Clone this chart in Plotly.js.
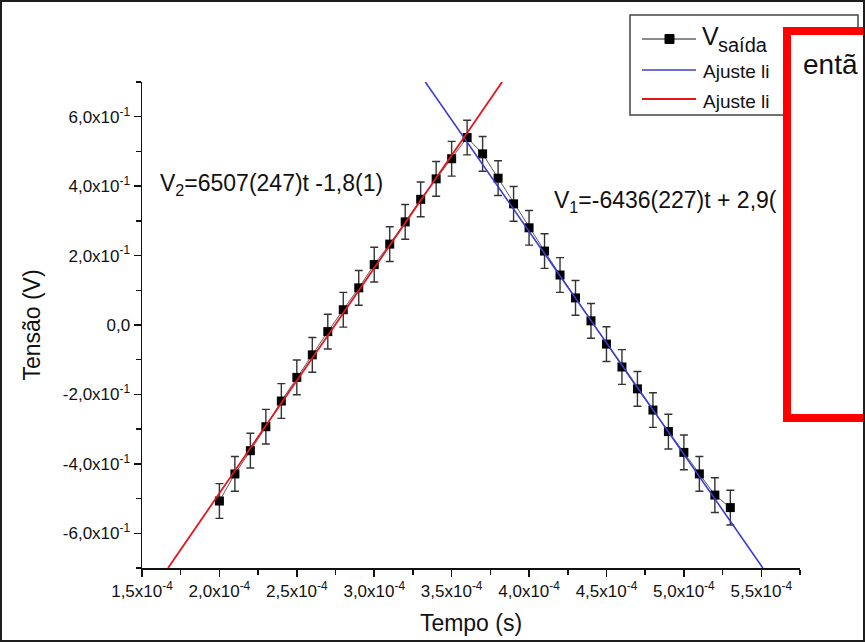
<!DOCTYPE html>
<html>
<head>
<meta charset="utf-8">
<script src="https://cdn.plot.ly/plotly-3.0.1.min.js"></script>
<style>
  html, body { margin: 0; padding: 0; background: #fff; }
  #wrap { position: relative; width: 865px; height: 642px; }
  #chart { position: absolute; left: 0; top: 0; width: 865px; height: 642px; }
  #frame { position: absolute; left: 0; top: 0; width: 865px; height: 642px; box-sizing: border-box; border: 2px solid #1e1e1e; pointer-events: none; }
</style>
</head>
<body>
<div id="wrap"><div id="chart"></div><div id="frame"></div></div>
<script>
// ---- data ----
const tempo = [2.0e-4, 2.1e-4, 2.2e-4, 2.3e-4, 2.4e-4, 2.5e-4, 2.6e-4, 2.7e-4, 2.8e-4, 2.9e-4,
               3.0e-4, 3.1e-4, 3.2e-4, 3.3e-4, 3.4e-4, 3.5e-4, 3.6e-4, 3.7e-4, 3.8e-4, 3.9e-4,
               4.0e-4, 4.1e-4, 4.2e-4, 4.3e-4, 4.4e-4, 4.5e-4, 4.6e-4, 4.7e-4, 4.8e-4, 4.9e-4,
               5.0e-4, 5.1e-4, 5.2e-4, 5.3e-4];
const tensao = [-0.507, -0.429, -0.362, -0.293, -0.219, -0.151, -0.086, -0.019, 0.044, 0.107,
                0.174, 0.233, 0.297, 0.362, 0.421, 0.479, 0.540, 0.493, 0.423, 0.349,
                0.280, 0.213, 0.144, 0.078, 0.012, -0.055, -0.121, -0.184, -0.245, -0.307,
                -0.367, -0.429, -0.490, -0.526];
const erroTensao = [0.05, 0.05, 0.05, 0.05, 0.05, 0.05, 0.05, 0.05, 0.05, 0.05,
                    0.05, 0.05, 0.05, 0.05, 0.05, 0.05, 0.05, 0.05, 0.05, 0.05,
                    0.05, 0.05, 0.05, 0.05, 0.05, 0.05, 0.05, 0.05, 0.05, 0.05,
                    0.05, 0.05, 0.05, 0.05];
// fit lines (end points)
const ajusteV1_t = [3.33e-4, 5.51e-4];
const ajusteV1_v = [0.70, -0.70];
const ajusteV2_t = [1.668e-4, 3.826e-4];
const ajusteV2_v = [-0.70, 0.70];
// tick labels
const xTickVals = [1.5e-4, 2.0e-4, 2.5e-4, 3.0e-4, 3.5e-4, 4.0e-4, 4.5e-4, 5.0e-4, 5.5e-4];
const xTickText = ['1,5x10<sup>-4</sup>', '2,0x10<sup>-4</sup>', '2,5x10<sup>-4</sup>', '3,0x10<sup>-4</sup>',
                   '3,5x10<sup>-4</sup>', '4,0x10<sup>-4</sup>', '4,5x10<sup>-4</sup>', '5,0x10<sup>-4</sup>',
                   '5,5x10<sup>-4</sup>'];
const xMinorVals = [1.75e-4, 2.25e-4, 2.75e-4, 3.25e-4, 3.75e-4, 4.25e-4, 4.75e-4, 5.25e-4, 5.75e-4];
const yTickVals = [-0.6, -0.4, -0.2, 0.0, 0.2, 0.4, 0.6];
const yTickText = ['-6,0x10<sup>-1</sup>', '-4,0x10<sup>-1</sup>', '-2,0x10<sup>-1</sup>', '0,0',
                   '2,0x10<sup>-1</sup>', '4,0x10<sup>-1</sup>', '6,0x10<sup>-1</sup>'];
const yMinorVals = [-0.7, -0.5, -0.3, -0.1, 0.1, 0.3, 0.5, 0.7];

// ---- layout geometry (pixels on the 865x642 page) ----
const W = 865, H = 642;
const L = 142, R = 800, T = 82, B = 568;
const px = v => (v - L) / (R - L);
const py = v => (B - v) / (B - T);
const FONT = 'Liberation Sans, Arial, sans-serif';

const traces = [
  {
    x: tempo, y: tensao, type: 'scatter', mode: 'lines+markers', name: 'V<sub>saída</sub>',
    line: {color: '#5a5a5a', width: 1},
    marker: {symbol: 'square', size: 9, color: '#000'},
    error_y: {type: 'data', array: erroTensao, visible: true, color: '#333', thickness: 1.4, width: 4},
    showlegend: false
  },
  {
    x: ajusteV1_t, y: ajusteV1_v, type: 'scatter', mode: 'lines', name: 'Ajuste linear',
    line: {color: '#3c3cd0', width: 1.6}, showlegend: false
  },
  {
    x: ajusteV2_t, y: ajusteV2_v, type: 'scatter', mode: 'lines', name: 'Ajuste linear',
    line: {color: '#e3161e', width: 1.8}, showlegend: false
  }
];

const axisCommon = {
  showgrid: false, zeroline: false, showline: true, linecolor: '#111', linewidth: 1.5,
  ticks: 'outside', ticklen: 7, tickwidth: 1.5, tickcolor: '#111', mirror: false,
  tickfont: {family: FONT, size: 17, color: '#111'}, automargin: false
};

const layout = {
  width: W, height: H,
  margin: {l: L, r: W - R, t: T, b: H - B, pad: 0},
  paper_bgcolor: '#fff', plot_bgcolor: '#fff',
  showlegend: false,
  xaxis: Object.assign({}, axisCommon, {
    range: [1.5e-4, 5.75e-4], tickmode: 'array', tickvals: xTickVals, ticktext: xTickText,
    minor: {tickmode: 'array', tickvals: xMinorVals, ticks: 'outside', ticklen: 5, tickwidth: 1.5, tickcolor: '#111', showgrid: false},
    title: {text: 'Tempo (s)', font: {family: FONT, size: 23, color: '#111'}, standoff: 15}
  }),
  yaxis: Object.assign({}, axisCommon, {
    range: [-0.7, 0.7], tickmode: 'array', tickvals: yTickVals, ticktext: yTickText,
    minor: {tickmode: 'array', tickvals: yMinorVals, ticks: 'outside', ticklen: 5, tickwidth: 1.5, tickcolor: '#111', showgrid: false},
    title: {text: 'Tensão (V)', font: {family: FONT, size: 23, color: '#111'}, standoff: 16}
  }),
  shapes: [
    // legend box
    {type: 'rect', xref: 'paper', yref: 'paper', x0: px(630), x1: px(858), y0: py(115), y1: py(15),
     line: {color: '#444', width: 1.5}, fillcolor: '#fff', layer: 'above'},
    // legend samples
    {type: 'line', xref: 'paper', yref: 'paper', x0: px(642), x1: px(696), y0: py(39), y1: py(39),
     line: {color: '#666', width: 1.5}, layer: 'above'},
    {type: 'rect', xref: 'paper', yref: 'paper', x0: px(665), x1: px(674), y0: py(43.5), y1: py(34.5),
     line: {color: '#000', width: 1}, fillcolor: '#000', layer: 'above'},
    {type: 'line', xref: 'paper', yref: 'paper', x0: px(642), x1: px(696), y0: py(70), y1: py(70),
     line: {color: '#3c3cd0', width: 1.6}, layer: 'above'},
    {type: 'line', xref: 'paper', yref: 'paper', x0: px(642), x1: px(696), y0: py(99), y1: py(99),
     line: {color: '#e3161e', width: 1.8}, layer: 'above'},
    // red overlay box
    {type: 'rect', xref: 'paper', yref: 'paper', x0: px(787), x1: px(900), y0: py(418), y1: py(31),
     line: {color: '#ff0000', width: 8}, fillcolor: '#fff', layer: 'above'}
  ],
  annotations: [
    {xref: 'paper', yref: 'paper', x: px(158), y: py(184), xanchor: 'left', yanchor: 'middle', showarrow: false,
     text: 'V<sub>2</sub>=6507(247)t -1,8(1)', font: {family: FONT, size: 23, color: '#111'}},
    {xref: 'paper', yref: 'paper', x: px(552), y: py(201), xanchor: 'left', yanchor: 'middle', showarrow: false,
     text: 'V<sub>1</sub>=-6436(227)t + 2,9(', font: {family: FONT, size: 23, color: '#111'}},
    {xref: 'paper', yref: 'paper', x: px(700), y: py(36), xanchor: 'left', yanchor: 'middle', showarrow: false,
     text: 'V', font: {family: FONT, size: 25, color: '#111'}},
    {xref: 'paper', yref: 'paper', x: px(716), y: py(45), xanchor: 'left', yanchor: 'middle', showarrow: false,
     text: 'saída', font: {family: FONT, size: 20, color: '#111'}},
    {xref: 'paper', yref: 'paper', x: px(701), y: py(72), xanchor: 'left', yanchor: 'middle', showarrow: false,
     text: 'Ajuste li', font: {family: FONT, size: 19, color: '#111'}},
    {xref: 'paper', yref: 'paper', x: px(701), y: py(101), xanchor: 'left', yanchor: 'middle', showarrow: false,
     text: 'Ajuste li', font: {family: FONT, size: 19, color: '#111'}},
    {xref: 'paper', yref: 'paper', x: px(801), y: py(64), xanchor: 'left', yanchor: 'middle', showarrow: false,
     text: 'entã', font: {family: FONT, size: 28, color: '#111'}}
  ]
};

Plotly.newPlot('chart', traces, layout, {staticPlot: true, displayModeBar: false});
</script>
</body>
</html>
